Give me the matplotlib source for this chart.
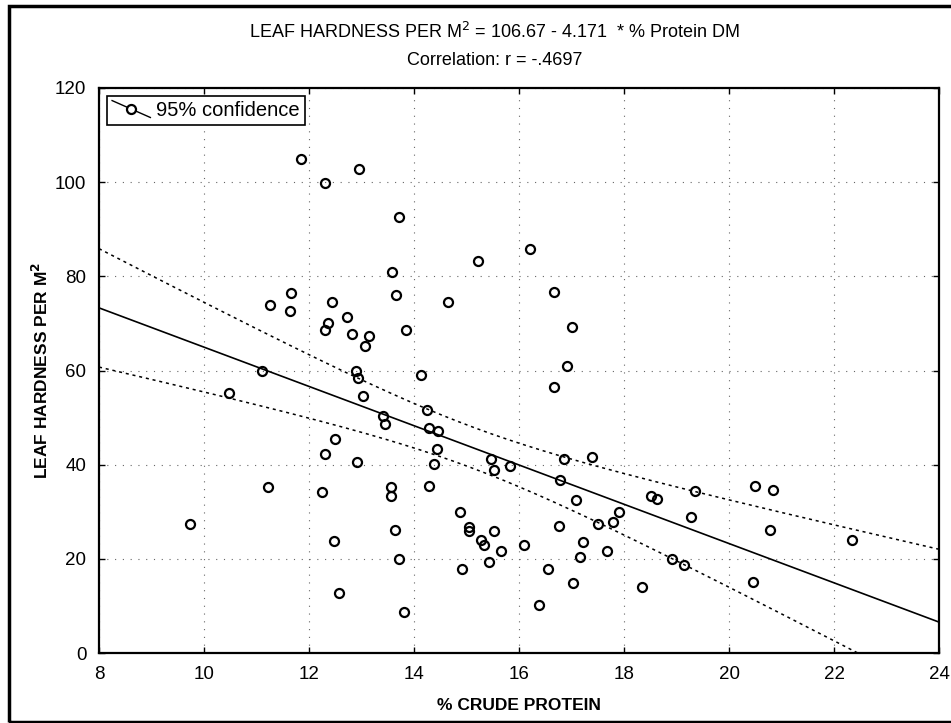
import matplotlib
matplotlib.use("Agg")
import matplotlib.pyplot as plt
from matplotlib.lines import Line2D
from matplotlib.patches import Rectangle
from matplotlib.legend_handler import HandlerBase
import numpy as np

plt.rcParams['font.family'] = ['Liberation Sans', 'DejaVu Sans']

# % crude protein (x) and leaf hardness per m2 (y)
protein = [11.84, 12.30, 12.96, 13.71, 13.59, 13.65, 11.66, 11.26, 12.43, 11.64,
           12.72, 12.36, 12.30, 12.81, 13.14, 13.07, 11.10, 12.90, 12.94, 13.02,
           10.48, 13.40, 13.45, 12.49, 12.30, 12.92, 11.22, 12.24, 13.56, 13.56,
           15.21, 16.21, 14.65, 16.67, 13.85, 17.00, 16.91, 16.67, 14.13, 14.25,
           14.29, 14.46, 14.43, 14.38, 15.47, 15.53, 15.83, 16.86, 17.39, 16.79,
           14.29, 17.09, 18.51, 18.63, 13.64, 13.72, 13.81, 14.87, 15.05, 15.05,
           15.27, 15.33, 15.52, 15.66, 15.42, 14.91, 16.09, 16.77, 16.56, 16.39,
           17.02, 17.16, 17.21, 17.50, 17.79, 17.91, 17.67, 18.35, 18.91, 19.35,
           19.27, 19.14, 20.50, 20.83, 20.79, 20.45, 22.34, 9.73, 12.48, 12.57]
hardness = [105.0, 99.9, 102.8, 92.5, 81.0, 76.0, 76.4, 74.0, 74.5, 72.6,
            71.3, 70.0, 68.5, 67.7, 67.3, 65.3, 59.8, 60.0, 58.5, 54.5,
            55.2, 50.4, 48.7, 45.4, 42.3, 40.6, 35.3, 34.1, 35.2, 33.3,
            83.3, 85.7, 74.6, 76.7, 68.6, 69.3, 61.0, 56.5, 59.1, 51.7,
            47.7, 47.2, 43.3, 40.1, 41.2, 38.9, 39.8, 41.3, 41.6, 36.7,
            35.5, 32.6, 33.3, 32.8, 26.2, 20.0, 8.7, 30.0, 26.8, 26.0,
            24.0, 22.9, 26.0, 21.6, 19.3, 17.9, 23.0, 26.9, 17.9, 10.2,
            14.8, 20.3, 23.6, 27.4, 27.9, 29.9, 21.7, 14.0, 20.0, 34.5,
            28.9, 18.7, 35.5, 34.6, 26.2, 15.0, 24.0, 27.4, 23.8, 12.7]

intercept = 106.67
slope = -4.171

x = np.array(protein)
y = np.array(hardness)
n = len(x)
xs = np.linspace(8, 24, 200)
fit = intercept + slope * xs
resid = y - (intercept + slope * x)
s = np.sqrt(np.sum(resid ** 2) / (n - 2))
sxx = np.sum((x - x.mean()) ** 2)
half = 1.987 * s * np.sqrt(1.0 / n + (xs - x.mean()) ** 2 / sxx)


class SlantHandler(HandlerBase):
    # legend symbol: slanted line with a circle on it
    def create_artists(self, legend, orig_handle, xdescent, ydescent,
                       width, height, fontsize, trans):
        ln = Line2D([0, width], [height * 1.1, -height * 0.1], color='black',
                    lw=1.0, transform=trans)
        mk = Line2D([width * 0.5], [height * 0.5], marker='o', ms=6.5,
                    mfc='white', mec='black', mew=1.6, ls='none',
                    transform=trans)
        return [ln, mk]


fig = plt.figure(figsize=(9.51, 7.23), dpi=100)
ax = fig.add_axes([0.1041, 0.0968, 0.8833, 0.7815])

ax.plot(xs, fit, color='black', lw=1.2)
ax.plot(xs, fit + half, color='black', lw=1.1, ls=(0, (2, 2.5)))
ax.plot(xs, fit - half, color='black', lw=1.1, ls=(0, (2, 2.5)))
ax.plot(x, y, ls='none', marker='o', ms=6.5, mfc='none', mec='black', mew=1.6)

ax.set_xlim(8, 24)
ax.set_ylim(0, 120)
ax.set_xticks(np.arange(8, 25, 2))
ax.set_yticks(np.arange(0, 121, 20))
ax.tick_params(direction='in', top=True, right=True, length=4, width=1,
               labelsize=13.5)
ax.tick_params(axis='x', pad=9)
ax.tick_params(axis='y', pad=9)
ax.grid(True, ls=(0, (1, 6)), color='#666666', lw=0.8)
for sp in ax.spines.values():
    sp.set_linewidth(1.6)

ax.set_xlabel('% CRUDE PROTEIN', fontsize=12.5, fontweight='bold', labelpad=11)
ax.set_ylabel('LEAF HARDNESS PER M$^\\mathbf{2}$', fontsize=12.5,
              fontweight='bold', labelpad=3)

fig.text(0.52, 0.956, 'LEAF HARDNESS PER M$^2$ = 106.67 - 4.171  * % Protein DM',
         ha='center', va='center', fontsize=13)
fig.text(0.52, 0.917, 'Correlation: r = -.4697', ha='center', va='center',
         fontsize=13)

leg = ax.legend([Line2D([], [])], ['95% confidence'], loc='upper left',
                handler_map={Line2D: SlantHandler()}, fontsize=14.5,
                fancybox=False, framealpha=1, edgecolor='black',
                borderaxespad=0.4, handlelength=1.9, handletextpad=0.3,
                borderpad=0.25)
leg.get_frame().set_linewidth(1.2)

fig.patches.append(Rectangle((0.009, 0.002), 1.0, 0.99, fill=False,
                             lw=2.5, ec='black', transform=fig.transFigure))

fig.savefig('out.png', dpi=100)
